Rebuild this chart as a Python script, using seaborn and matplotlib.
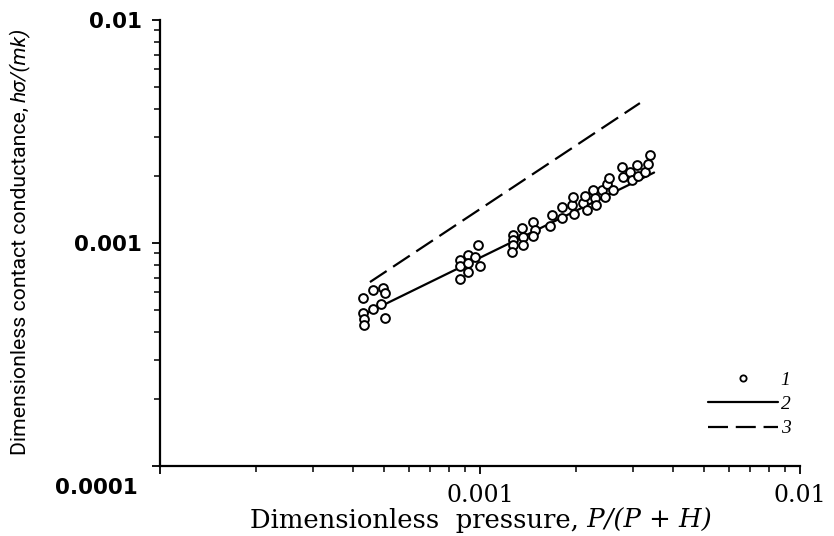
import matplotlib
matplotlib.use("Agg")
import matplotlib.pyplot as plt
from matplotlib.lines import Line2D
from matplotlib.ticker import LogLocator, NullFormatter, FixedLocator, FixedFormatter
import seaborn as sns

# ---- data ----
x_pts = [4.31e-4, 4.63e-4, 4.98e-4, 5.05e-4, 4.31e-4, 4.63e-4, 4.91e-4, 4.34e-4, 4.34e-4, 5.05e-4,
         9.86e-4, 8.66e-4, 9.17e-4, 9.64e-4, 8.66e-4, 9.17e-4, 1.00e-3, 9.17e-4, 8.66e-4,
         1.27e-3, 1.35e-3, 1.46e-3, 1.27e-3, 1.36e-3, 1.49e-3, 1.27e-3, 1.36e-3, 1.46e-3, 1.26e-3,
         1.65e-3, 1.68e-3, 1.80e-3, 1.80e-3, 1.94e-3, 1.95e-3, 1.97e-3, 2.10e-3, 2.13e-3, 2.16e-3,
         2.26e-3, 2.29e-3, 2.30e-3, 2.41e-3, 2.46e-3, 2.49e-3, 2.53e-3, 2.60e-3, 2.78e-3, 2.80e-3,
         2.94e-3, 2.99e-3, 3.09e-3, 3.12e-3, 3.28e-3, 3.35e-3, 3.40e-3]
y_pts = [5.66e-4, 6.15e-4, 6.28e-4, 5.97e-4, 4.85e-4, 5.06e-4, 5.33e-4, 4.56e-4, 4.29e-4, 4.61e-4,
         9.80e-4, 8.39e-4, 8.83e-4, 8.65e-4, 7.89e-4, 8.13e-4, 7.89e-4, 7.41e-4, 6.90e-4,
         1.09e-3, 1.17e-3, 1.24e-3, 1.03e-3, 1.06e-3, 1.14e-3, 9.80e-4, 9.80e-4, 1.07e-3, 9.11e-4,
         1.19e-3, 1.34e-3, 1.29e-3, 1.45e-3, 1.48e-3, 1.61e-3, 1.35e-3, 1.51e-3, 1.62e-3, 1.41e-3,
         1.73e-3, 1.59e-3, 1.48e-3, 1.73e-3, 1.61e-3, 1.84e-3, 1.96e-3, 1.73e-3, 2.19e-3, 1.98e-3,
         2.08e-3, 1.92e-3, 2.24e-3, 2.00e-3, 2.08e-3, 2.26e-3, 2.48e-3]

line2_x = [4.30e-4, 3.50e-3]
line2_y = [4.75e-4, 2.07e-3]
line3_x = [4.53e-4, 3.16e-3]
line3_y = [6.68e-4, 4.24e-3]

legend_labels = ["1", "2", "3"]
xtick_vals = [1e-4, 1e-3, 1e-2]
xtick_labels = ["", "0.001", "0.01"]
ytick_vals = [1e-4, 1e-3, 1e-2]
ytick_labels = ["", "0.001", "0.01"]

sns.set_style("ticks")
plt.rcParams["font.family"] = ["DejaVu Sans"]
plt.rcParams["text.color"] = "black"
plt.rcParams["xtick.color"] = "black"
plt.rcParams["ytick.color"] = "black"
plt.rcParams["axes.labelcolor"] = "black"

W, H = 834, 536
fig = plt.figure(figsize=(W / 100, H / 100), dpi=100)
ax = fig.add_axes([160 / W, 1 - 466 / H, 640 / W, 446 / H])

sns.scatterplot(x=x_pts, y=y_pts, ax=ax, marker="o", s=40, color="white",
                edgecolor="black", linewidth=1.4, zorder=3, legend=False)
sns.lineplot(x=line2_x, y=line2_y, ax=ax, color="black", linewidth=1.6, zorder=2)
sns.lineplot(x=line3_x, y=line3_y, ax=ax, color="black", linewidth=1.6, zorder=2)
ax.lines[-1].set_dashes([9, 3.5])

ax.set_xscale("log")
ax.set_yscale("log")
ax.set_xlim(1e-4, 1e-2)
ax.set_ylim(1e-4, 1e-2)

for sp in ["top", "right"]:
    ax.spines[sp].set_visible(False)
for sp in ["left", "bottom"]:
    ax.spines[sp].set_linewidth(1.6)
    ax.spines[sp].set_color("black")

ax.xaxis.set_major_locator(FixedLocator(xtick_vals))
ax.xaxis.set_major_formatter(FixedFormatter(xtick_labels))
ax.yaxis.set_major_locator(FixedLocator(ytick_vals))
ax.yaxis.set_major_formatter(FixedFormatter(ytick_labels))
for axis in (ax.xaxis, ax.yaxis):
    axis.set_minor_locator(LogLocator(base=10, subs=range(2, 10)))
    axis.set_minor_formatter(NullFormatter())

ax.tick_params(which="major", direction="out", length=6, width=1.3, color="black")
ax.tick_params(which="minor", direction="out", length=4, width=1.1, color="black")
ax.tick_params(axis="y", which="major", pad=7)
ax.tick_params(axis="x", which="major", pad=7)
for lab in ax.get_yticklabels():
    lab.set_fontfamily("DejaVu Sans")
    lab.set_fontweight("bold")
    lab.set_fontsize(15.5)
for lab in ax.get_xticklabels():
    lab.set_fontfamily("DejaVu Serif")
    lab.set_fontsize(17)

# the offset 0.0001 label at the bottom-left corner
ax.annotate("0.0001", xy=(0, 1e-4), xycoords=("axes fraction", "data"),
            xytext=(-16, -16), textcoords="offset points", ha="right", va="center",
            fontfamily="DejaVu Sans", fontweight="bold", fontsize=15.5)

# y label: regular + italic parts
ty = fig.text(20 / W, 1 - 455 / H, "Dimensionless contact conductance, ", rotation=90,
              ha="center", va="bottom", fontsize=15.3, fontfamily="Roboto")
ax.annotate("hσ/(mk)", xy=(0.5, 1), xycoords=ty, rotation=90, ha="center", va="bottom",
            fontsize=15.3, fontstyle="italic", fontfamily="Roboto", annotation_clip=False)

# x label: regular + italic parts
tx = fig.text(250 / W, 1 - 533 / H, "Dimensionless  pressure,", ha="left", va="bottom",
              fontsize=18.6, fontfamily="DejaVu Serif")
ax.annotate(" P/(P + H)", xy=(1, 0), xycoords=tx, ha="left", va="bottom",
            fontsize=18.6, fontstyle="italic", fontfamily="DejaVu Serif", annotation_clip=False)

handles = [
    Line2D([], [], linestyle="none", marker="o", markersize=4.5, markerfacecolor="white",
           markeredgecolor="black", markeredgewidth=1.3),
    Line2D([], [], color="black", linewidth=1.6),
    Line2D([], [], color="black", linewidth=1.6, dashes=[9, 3.5]),
]
ax.legend(handles, legend_labels, loc="lower right", bbox_to_anchor=(0.997, 0.0465),
          frameon=False, handlelength=3.6, handletextpad=0.15, labelspacing=0.35,
          borderaxespad=0, prop={"family": "Liberation Serif", "style": "italic", "size": 14})

fig.savefig("out.png", dpi=100)
